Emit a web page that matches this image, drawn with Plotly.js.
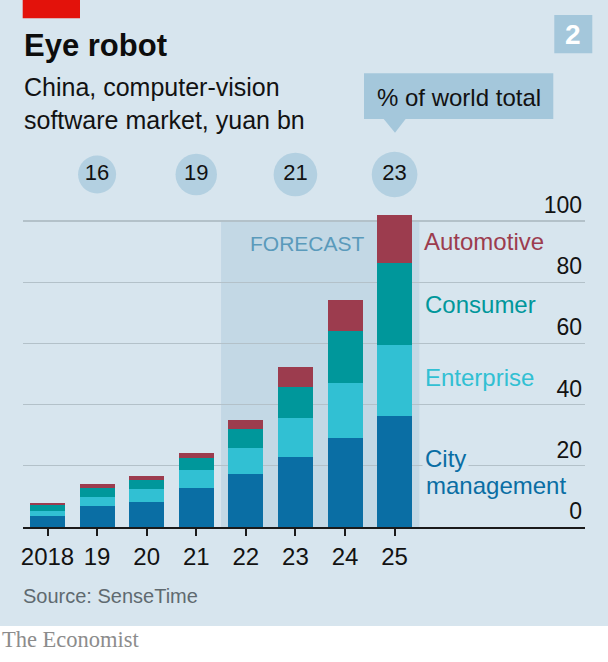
<!DOCTYPE html>
<html>
<head>
<meta charset="utf-8">
<script src="https://cdn.plot.ly/plotly-3.0.1.min.js"></script>
<style>
  html, body { margin: 0; padding: 0; background: #ffffff; }
  #chart { width: 608px; height: 662px; }
</style>
</head>
<body>
<div id="chart"></div>
<script>
// ---- Data ----
const years = ['2018', '19', '20', '21', '22', '23', '24', '25'];
const cityManagement = [3.6, 6.9, 8.1, 12.9, 17.3, 22.8, 29.2, 36.4];
const enterprise     = [1.6, 2.8, 4.3, 5.6, 8.4, 12.8, 17.8, 23.1];
const consumer       = [2.1, 3.1, 3.1, 4.0, 6.2, 10.1, 17.0, 26.8];
const automotive     = [0.7, 1.1, 1.2, 1.8, 3.2, 6.6, 10.2, 15.5];

const shareYears  = ['19', '21', '23', '25'];
const shareValues = [16, 19, 21, 23];   // % of world total

const yTicks = [0, 20, 40, 60, 80, 100];
const forecastStart = 3.5, forecastEnd = 7.5;  // category index span (2022-2025)

// ---- Layout geometry helpers ----
const W = 608, H = 662, ML = 23, MR = 23, MT = 140, MB = 135;
const PW = W - ML - MR, PH = H - MT - MB;
const px2x = p => (p - ML) / PW;
const px2y = p => (H - MB - p) / PH;

const FONT = 'Liberation Sans, Arial, sans-serif';
const BG = '#d7e5ee';
const SHADE = '#c3d8e5';
const BUBBLE = '#a4c7db';
const C_CITY = '#0a6ea4', C_ENT = '#31c0d3', C_CONS = '#00979b', C_AUTO = '#9c3c4e';

const barCommon = { type: 'bar', x: years, xaxis: 'x', yaxis: 'y', hoverinfo: 'skip' };

const traces = [
  Object.assign({}, barCommon, { name: 'City management', y: cityManagement, marker: { color: C_CITY, line: { width: 0 } } }),
  Object.assign({}, barCommon, { name: 'Enterprise', y: enterprise, marker: { color: C_ENT, line: { width: 0 } } }),
  Object.assign({}, barCommon, { name: 'Consumer', y: consumer, marker: { color: C_CONS, line: { width: 0 } } }),
  Object.assign({}, barCommon, { name: 'Automotive', y: automotive, marker: { color: C_AUTO, line: { width: 0 } } }),
  {
    type: 'scatter', mode: 'markers+text', name: '% of world total',
    x: shareYears, y: shareYears.map(() => 0.443),
    xaxis: 'x', yaxis: 'y2',
    text: shareValues.map(String),
    textposition: 'middle center',
    textfont: { family: FONT, size: 22, color: '#121212' },
    marker: { color: BUBBLE, size: shareValues, sizemode: 'area', sizeref: 0.0221, line: { width: 0 } },
    hoverinfo: 'skip', cliponaxis: false
  }
];

const layout = {
  width: W, height: H,
  margin: { l: ML, r: MR, t: MT, b: MB, pad: 0 },
  paper_bgcolor: BG,
  plot_bgcolor: 'rgba(0,0,0,0)',
  showlegend: false,
  barmode: 'stack',
  bargap: 0.294,
  font: { family: FONT, color: '#121212' },
  title: {
    text: '<b>Eye robot</b>',
    font: { family: FONT, size: 31, color: '#0d0d0d' },
    x: 24 / W, xref: 'container', xanchor: 'left',
    y: 1 - 45 / H, yref: 'container', yanchor: 'middle',
    pad: { t: 0, b: 0, l: 0, r: 0 }
  },
  xaxis: {
    type: 'category',
    categoryorder: 'array', categoryarray: years,
    range: [-0.494, 10.84],
    domain: [0, 1],
    anchor: 'y',
    showgrid: false, zeroline: false,
    showline: true, linecolor: '#1a1a1a', linewidth: 2,
    ticks: 'outside', ticklen: 7, tickwidth: 2, tickcolor: '#1a1a1a',
    tickfont: { family: FONT, size: 24, color: '#121212' },
    fixedrange: true
  },
  yaxis: {
    domain: [0, 0.8698],
    range: [0, 110],
    anchor: 'x',
    side: 'right',
    tickvals: yTicks,
    ticktext: yTicks.map(String),
    ticks: '',
    ticklabelposition: 'inside top',
    tickfont: { family: FONT, size: 23, color: '#121212' },
    showgrid: true, gridcolor: '#b3c1c9', gridwidth: 1.3,
    zeroline: false, showline: false,
    fixedrange: true
  },
  yaxis2: {
    domain: [0.84, 1],
    range: [0, 1],
    anchor: 'x',
    visible: false,
    fixedrange: true
  },
  shapes: [
    // white strip at the bottom for the logo
    { type: 'rect', xref: 'paper', yref: 'paper', layer: 'below',
      x0: px2x(-5), x1: px2x(W + 5), y0: px2y(H + 5), y1: px2y(626),
      fillcolor: '#ffffff', line: { width: 0 } },
    // forecast shading
    { type: 'rect', xref: 'x', yref: 'y', layer: 'below',
      x0: forecastStart, x1: forecastEnd, y0: 0, y1: 100,
      fillcolor: SHADE, line: { width: 0 } },
    // red tag
    { type: 'rect', xref: 'paper', yref: 'paper',
      x0: px2x(22.7), x1: px2x(80), y0: px2y(0), y1: px2y(18.3),
      fillcolor: '#e3120b', line: { width: 0 } },
    // chart number box
    { type: 'rect', xref: 'paper', yref: 'paper',
      x0: px2x(554.3), x1: px2x(592.3), y0: px2y(53.3), y1: px2y(15),
      fillcolor: BUBBLE, line: { width: 0 } },
    // callout box
    { type: 'rect', xref: 'paper', yref: 'paper',
      x0: px2x(364), x1: px2x(553.3), y0: px2y(119), y1: px2y(73.3),
      fillcolor: BUBBLE, line: { width: 0 } },
    // callout pointer
    { type: 'path', xref: 'paper', yref: 'paper',
      path: 'M ' + px2x(383.3) + ' ' + px2y(118.5) + ' L ' + px2x(406) + ' ' + px2y(118.5) + ' L ' + px2x(395) + ' ' + px2y(132.7) + ' Z',
      fillcolor: BUBBLE, line: { width: 0 } }
  ],
  annotations: [
    { text: 'China, computer-vision<br>software market, yuan bn', xref: 'paper', yref: 'paper',
      x: px2x(21.5), y: px2y(103), xanchor: 'left', yanchor: 'middle', align: 'left', showarrow: false,
      font: { family: FONT, size: 25, color: '#121212' } },
    { text: '<b>2</b>', xref: 'paper', yref: 'paper',
      x: px2x(573.3), y: px2y(34.5), xanchor: 'center', yanchor: 'middle', showarrow: false,
      font: { family: FONT, size: 28, color: '#ffffff' } },
    { text: '% of world total', xref: 'paper', yref: 'paper',
      x: px2x(458.5), y: px2y(97.5), xanchor: 'center', yanchor: 'middle', showarrow: false,
      font: { family: FONT, size: 24, color: '#121212' } },
    { text: 'FORECAST', xref: 'paper', yref: 'paper',
      x: px2x(247.5), y: px2y(243), xanchor: 'left', yanchor: 'middle', showarrow: false,
      font: { family: FONT, size: 21, color: '#5a9abb' } },
    { text: 'Automotive', xref: 'paper', yref: 'paper',
      x: px2x(421.5), y: px2y(241.6), xanchor: 'left', yanchor: 'middle', showarrow: false,
      font: { family: FONT, size: 24, color: C_AUTO } },
    { text: 'Consumer', xref: 'paper', yref: 'paper',
      x: px2x(423), y: px2y(304.3), xanchor: 'left', yanchor: 'middle', showarrow: false,
      font: { family: FONT, size: 24, color: C_CONS } },
    { text: 'Enterprise', xref: 'paper', yref: 'paper',
      x: px2x(423), y: px2y(377.6), xanchor: 'left', yanchor: 'middle', showarrow: false,
      font: { family: FONT, size: 24, color: C_ENT } },
    { text: 'City', xref: 'paper', yref: 'paper',
      x: px2x(422), y: px2y(458.3), xanchor: 'left', yanchor: 'middle', showarrow: false,
      bgcolor: BG, borderpad: 2,
      font: { family: FONT, size: 24, color: C_CITY } },
    { text: 'management', xref: 'paper', yref: 'paper',
      x: px2x(424), y: px2y(485.6), xanchor: 'left', yanchor: 'middle', showarrow: false,
      font: { family: FONT, size: 24, color: C_CITY } },
    { text: 'Source: SenseTime', xref: 'paper', yref: 'paper',
      x: px2x(21), y: px2y(596), xanchor: 'left', yanchor: 'middle', showarrow: false,
      font: { family: FONT, size: 20, color: '#5f6a70' } },
    { text: 'The Economist', xref: 'paper', yref: 'paper',
      x: px2x(0), y: px2y(639), xanchor: 'left', yanchor: 'middle', showarrow: false,
      font: { family: 'Liberation Serif, Times New Roman, serif', size: 22.5, color: '#8c8c8c' } }
  ]
};

Plotly.newPlot('chart', traces, layout, { displayModeBar: false, staticPlot: true });
</script>
</body>
</html>
